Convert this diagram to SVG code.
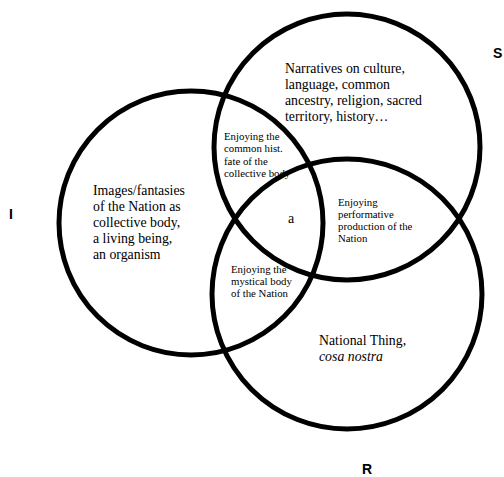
<svg xmlns="http://www.w3.org/2000/svg" width="504" height="477" viewBox="0 0 504 477">
<style>
.c{fill:none;stroke:#000;stroke-width:5}
.t{font-family:"Liberation Serif","Times New Roman",serif;font-size:13.8px;fill:#000}
.s{font-family:"Liberation Serif","Times New Roman",serif;font-size:10.8px;fill:#000}
.l{font-family:"Liberation Sans",Arial,sans-serif;font-size:14px;font-weight:bold;fill:#000}
</style>
<rect width="504" height="477" fill="#fff"/>
<g id="circles">
<circle id="circle-I" class="c" cx="191" cy="223" r="132"/>
<circle id="circle-S" class="c" cx="347" cy="147" r="133"/>
<circle id="circle-R" class="c" cx="347" cy="294" r="135"/>
</g>
<g id="label-S"><text class="l" x="493" y="58">S</text></g>
<g id="label-I"><text class="l" x="9" y="219">I</text></g>
<g id="label-R"><text class="l" x="362" y="474">R</text></g>
<g id="text-S"><text class="t" x="285" y="73">Narratives on culture,<tspan x="285" y="89">language, common</tspan><tspan x="285" y="105">ancestry, religion, sacred</tspan><tspan x="285" y="121">territory, history…</tspan></text></g>
<g id="text-I"><text class="t" x="93" y="195">Images/fantasies<tspan x="93" y="211">of the Nation as</tspan><tspan x="93" y="227">collective body,</tspan><tspan x="93" y="243">a living being,</tspan><tspan x="93" y="259">an organism</tspan></text></g>
<g id="text-IS"><text class="s" x="224" y="140">Enjoying the<tspan x="224" y="152.3">common hist.</tspan><tspan x="224" y="164.6">fate of the</tspan><tspan x="224" y="177">collective body</tspan></text></g>
<g id="text-SR"><text class="s" x="338" y="205.5">Enjoying<tspan x="338" y="217.8">performative</tspan><tspan x="338" y="230.1">production of the</tspan><tspan x="338" y="242.4">Nation</tspan></text></g>
<g id="text-IR"><text class="s" x="231" y="272.5">Enjoying the<tspan x="231" y="284.8">mystical body</tspan><tspan x="231" y="297.1">of the Nation</tspan></text></g>
<g id="text-a"><text class="t" x="288" y="223" style="font-size:14px">a</text></g>
<g id="text-R"><text class="t" x="319" y="345">National Thing,<tspan x="319" y="361" font-style="italic">cosa nostra</tspan></text></g>
</svg>
